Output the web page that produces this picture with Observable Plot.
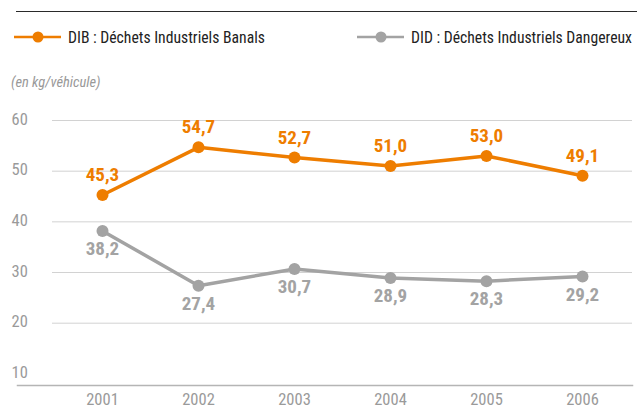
<!DOCTYPE html>
<html>
<head>
<meta charset="utf-8">
<script src="https://cdn.jsdelivr.net/npm/d3@7"></script>
<script src="https://cdn.jsdelivr.net/npm/@observablehq/plot@0.6"></script>
<style>
  html, body { margin: 0; padding: 0; background: #fff; }
  #wrap { position: relative; width: 637px; height: 409px; overflow: hidden;
          font-family: "Roboto Condensed", "Liberation Sans", sans-serif; }
  #topline { position: absolute; left: 16px; top: 11px; width: 621px; height: 1px; background: #2a2a2a; }
  .leg { position: absolute; top: 27px; height: 20px; display: flex; align-items: center; font-size: 15.7px; color: #222; white-space: nowrap; }
  .leg svg { margin-right: 7px; }
  #sub { position: absolute; left: 11px; top: 74px; font-size: 14.5px; font-style: italic; color: #999; }
  #chart { position: absolute; left: 0; top: 100px; }
</style>
</head>
<body>
<div id="wrap">
  <div id="topline"></div>
  <div id="legend"></div>
  <div id="sub">(en kg/véhicule)</div>
  <div id="chart"></div>
</div>
<script>
const years = ["2001", "2002", "2003", "2004", "2005", "2006"];
const seriesNames = ["DIB", "DID"];
const seriesLabels = ["DIB : Déchets Industriels Banals", "DID : Déchets Industriels Dangereux"];
const seriesColors = ["#ee7d00", "#a3a3a3"];
const dib = [45.3, 54.7, 52.7, 51.0, 53.0, 49.1];
const did = [38.2, 27.4, 30.7, 28.9, 28.3, 29.2];
const yTickValues = [10, 20, 30, 40, 50, 60];
const gridValues = [20, 30, 40, 50, 60];

const data = years.flatMap((yr, i) => [
  {year: yr, series: "DIB", value: dib[i]},
  {year: yr, series: "DID", value: did[i]}
]);
const fmt = v => v.toFixed(1).replace(".", ",");

// Legend (HTML)
const legend = document.getElementById("legend");
const legLeft = [14, 357];
seriesNames.forEach((s, i) => {
  const el = document.createElement("div");
  el.className = "leg";
  el.style.left = legLeft[i] + "px";
  el.innerHTML = `<svg width="47" height="14"><line x1="0" x2="47" y1="7" y2="7" stroke="${seriesColors[i]}" stroke-width="2.5"/><circle cx="24" cy="7" r="5.5" fill="${seriesColors[i]}"/></svg><span>${seriesLabels[i]}</span>`;
  legend.appendChild(el);
});

const k = (222.7 - 20) / 40;
const chart = Plot.plot({
  width: 637,
  height: 309,
  marginTop: 10,
  marginBottom: 24,
  marginLeft: 17,
  marginRight: 5,
  style: {fontFamily: "'Roboto Condensed', 'Liberation Sans', sans-serif", fontSize: "16px", background: "transparent"},
  x: {type: "point", domain: years, range: [100, 583], padding: 0},
  y: {domain: [60 - 265 / k, 60 + 10 / k]},
  color: {domain: seriesNames, range: seriesColors},
  marks: [
    Plot.ruleY(gridValues, {stroke: "#d2d2d2", strokeWidth: 1, insetLeft: 35}),
    Plot.frame({anchor: "bottom", stroke: "#b5b5b5", strokeWidth: 1.5}),
    Plot.axisY(yTickValues, {tickSize: 0, tickPadding: 0, textAnchor: "start", dx: -6, dy: -1, fill: "#9a9a9a", fontSize: 16.5, label: null}),
    Plot.axisX({tickSize: 0, tickPadding: 8, fill: "#9a9a9a", fontSize: 16.5, label: null}),
    Plot.line(data, {x: "year", y: "value", z: "series", stroke: "series", strokeWidth: 3.5}),
    Plot.dot(data, {x: "year", y: "value", fill: "series", r: 6}),
    Plot.text(data.filter(d => d.series === "DIB"), {x: "year", y: "value", text: d => fmt(d.value), dy: -20, fill: "series", fontWeight: "bold", fontSize: 19}),
    Plot.text(data.filter(d => d.series === "DID"), {x: "year", y: "value", text: d => fmt(d.value), dy: 18, fill: "series", fontWeight: "bold", fontSize: 19})
  ]
});
document.getElementById("chart").appendChild(chart);
</script>
</body>
</html>
